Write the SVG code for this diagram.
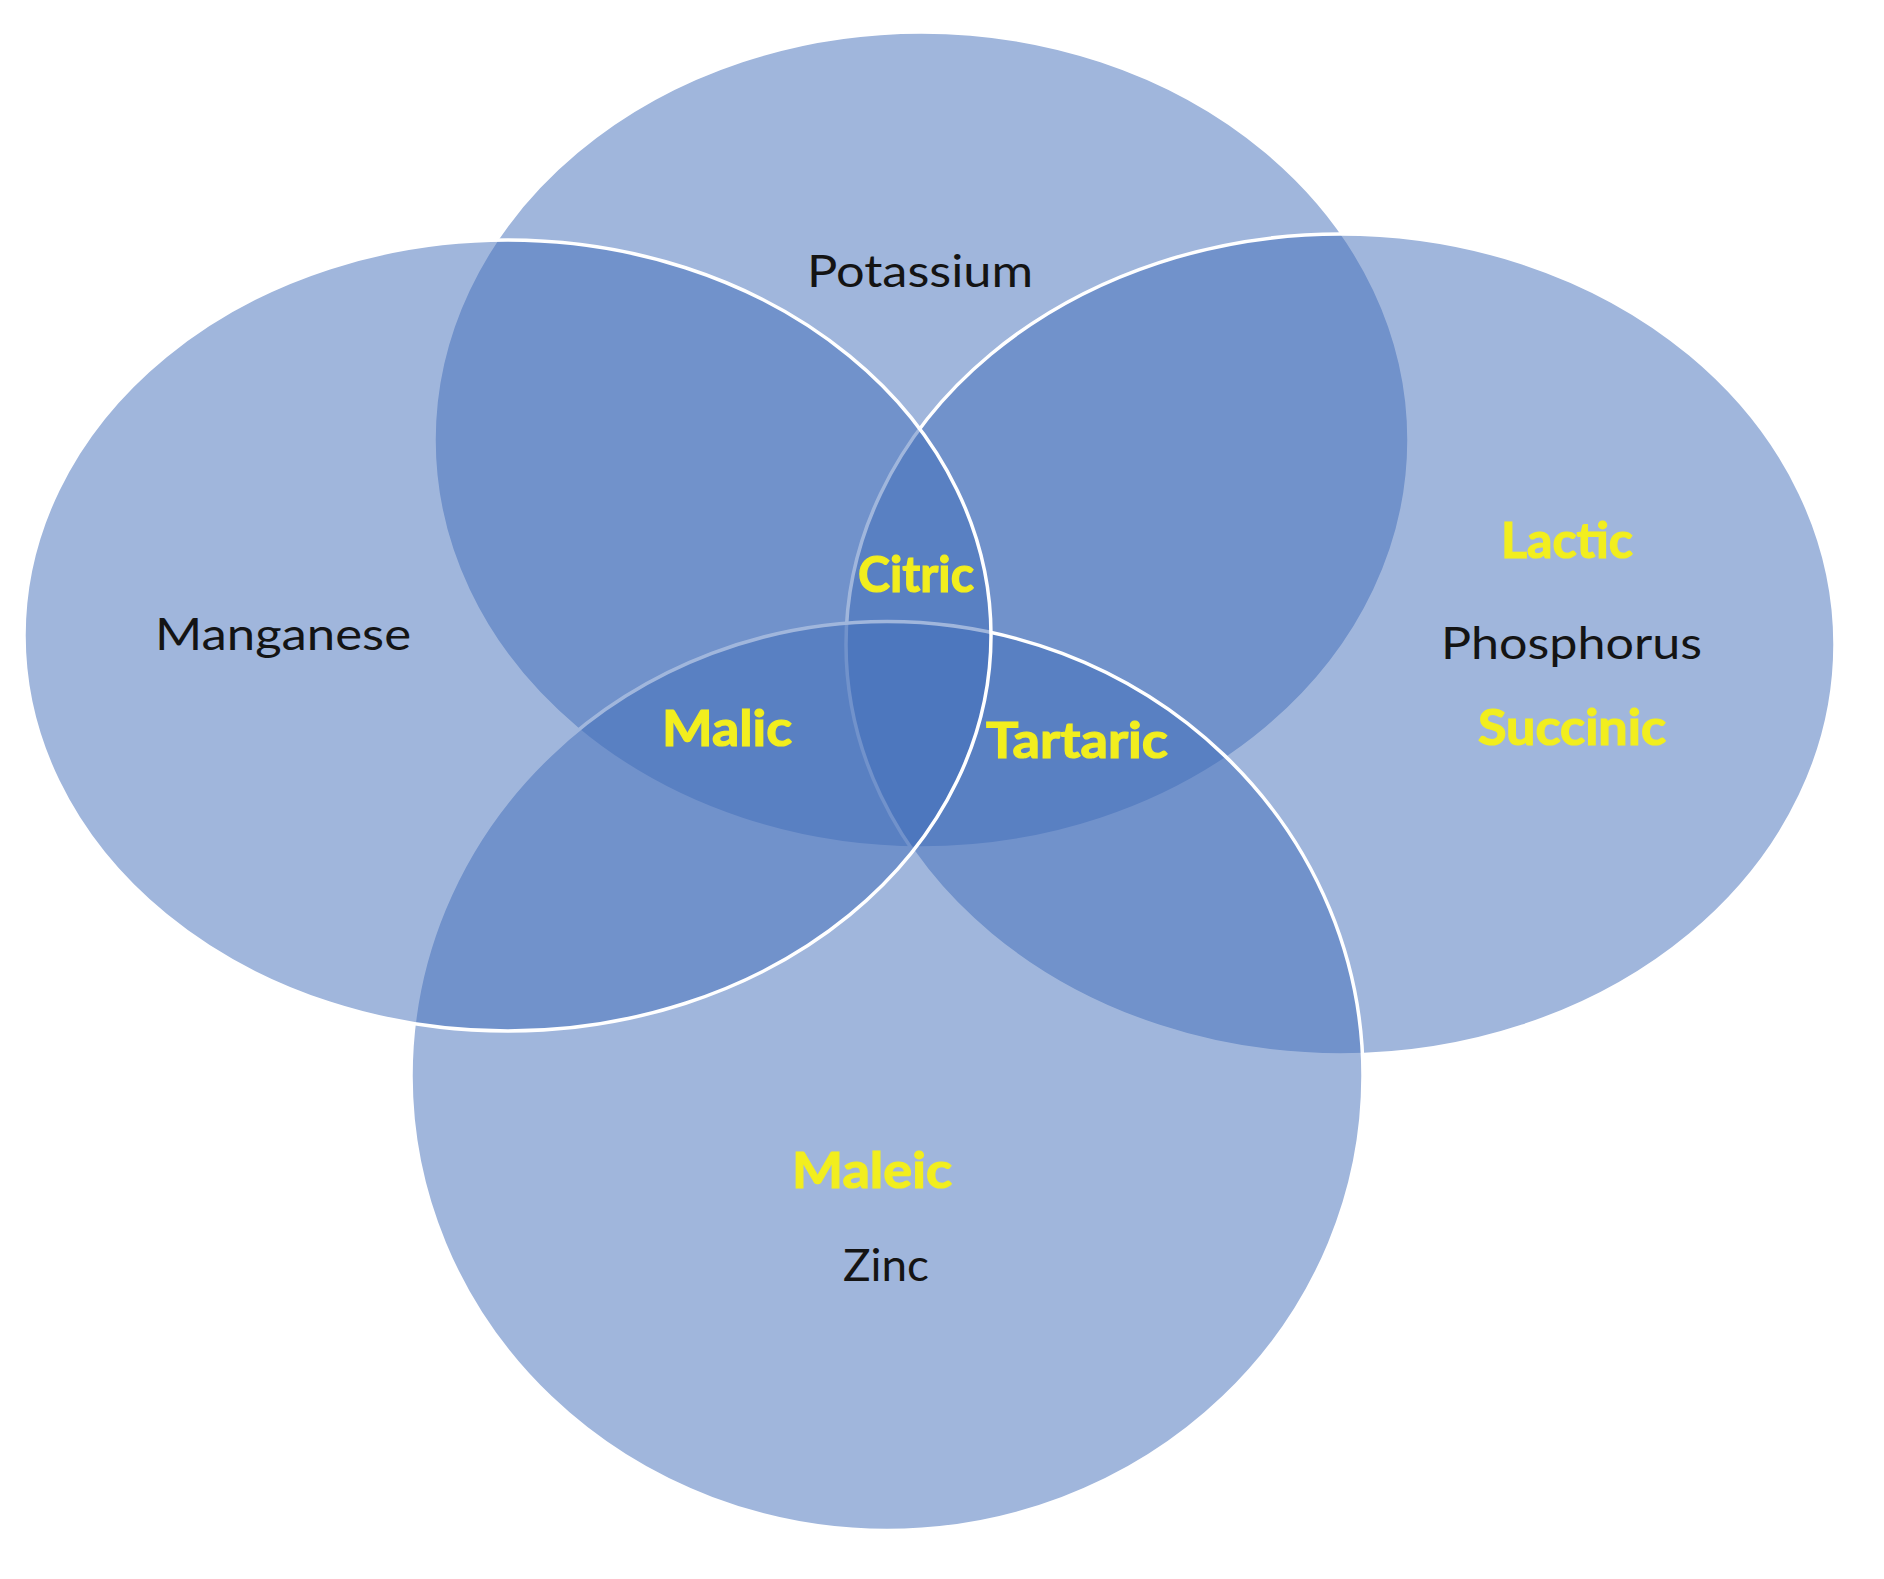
<svg xmlns="http://www.w3.org/2000/svg" width="1884" height="1579" viewBox="0 0 1884 1579">
<style>
.set{fill:#426EB9;fill-opacity:0.5;stroke:#FFFFFF;stroke-width:3.5}
.lbl{font-family:Lato,"Open Sans","Liberation Sans",sans-serif;font-size:45px;fill:#141414;text-anchor:middle}
.acid{font-family:Lato,"Open Sans","Liberation Sans",sans-serif;font-size:49px;font-weight:bold;fill:#F2EE1E;stroke:#F2EE1E;stroke-width:1.2;text-anchor:middle}
</style>
<rect width="1884" height="1579" fill="#FFFFFF"/>
<g id="potassium"><ellipse class="set" cx="921.5" cy="440" rx="487.5" ry="408"/></g>
<g id="phosphorus"><ellipse class="set" cx="1340.5" cy="644.5" rx="494.5" ry="410.5"/></g>
<g id="zinc"><ellipse class="set" cx="887" cy="1076" rx="476" ry="454.5"/></g>
<g id="manganese"><ellipse class="set" cx="507.5" cy="635.5" rx="483.5" ry="395.5"/></g>
<g id="connectors"></g>
<g id="labels">
<g id="label-potassium"><text class="lbl" x="920" y="287" textLength="226" lengthAdjust="spacingAndGlyphs">Potassium</text></g>
<g id="label-manganese"><text class="lbl" x="283" y="650" textLength="256" lengthAdjust="spacingAndGlyphs">Manganese</text></g>
<g id="label-phosphorus"><text class="lbl" x="1571.5" y="659" textLength="261" lengthAdjust="spacingAndGlyphs">Phosphorus</text></g>
<g id="label-zinc"><text class="lbl" x="886" y="1281" textLength="86" lengthAdjust="spacingAndGlyphs">Zinc</text></g>
<g id="label-lactic"><text class="acid" x="1567" y="558" textLength="132" lengthAdjust="spacingAndGlyphs">Lactic</text></g>
<g id="label-succinic"><text class="acid" x="1572" y="745" textLength="188" lengthAdjust="spacingAndGlyphs">Succinic</text></g>
<g id="label-citric"><text class="acid" x="916" y="592" textLength="116" lengthAdjust="spacingAndGlyphs">Citric</text></g>
<g id="label-malic"><text class="acid" x="727" y="746" textLength="130" lengthAdjust="spacingAndGlyphs">Malic</text></g>
<g id="label-tartaric"><text class="acid" x="1077" y="758" textLength="182" lengthAdjust="spacingAndGlyphs">Tartaric</text></g>
<g id="label-maleic"><text class="acid" x="872" y="1188" textLength="160" lengthAdjust="spacingAndGlyphs">Maleic</text></g>
</g>
</svg>
